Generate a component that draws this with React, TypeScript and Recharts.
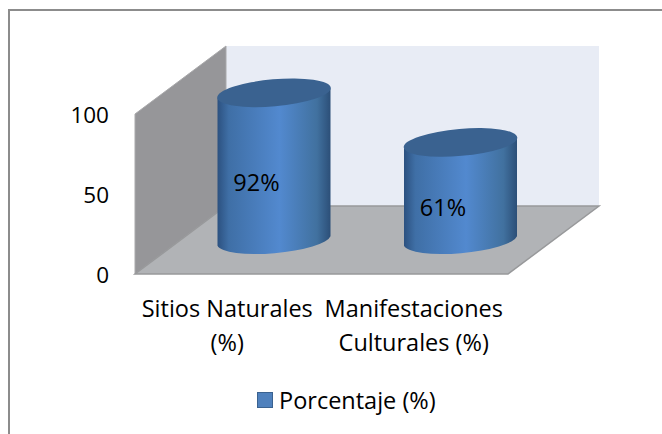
import React from "react";
import { BarChart, Bar, XAxis, YAxis, Legend, LabelList, Customized } from "recharts";

const categories = ["Sitios Naturales (%)", "Manifestaciones Culturales (%)"];
const categoryLines = [
  ["Sitios Naturales", "(%)"],
  ["Manifestaciones", "Culturales (%)"],
];
const percentages = [92, 61];
const yTicks = [0, 50, 100];
const seriesName = "Porcentaje (%)";
const rows = categories.map((name, i) => ({ name, value: percentages[i] }));

const W = 662;
const H = 434;
const FONT = "'Open Sans', Lato, sans-serif";
const TEXT_SIZE = 23.5;
const LEFT = 135;
const TOP = 114;
const RIGHT = 154;
const BOTTOM = 160;
const DEPTH_X = 91;
const DEPTH_Y = 68;

function Room() {
  const l = LEFT;
  const r = W - RIGHT;
  const t = TOP;
  const b = H - BOTTOM;
  return (
    <g>
      <path d={`M9 434V10H${W}`} fill="none" stroke="#8c8c8c" strokeWidth={2} />
      <polygon
        points={`${l + DEPTH_X},${t - DEPTH_Y} ${r + DEPTH_X},${t - DEPTH_Y} ${r + DEPTH_X},${b - DEPTH_Y} ${l + DEPTH_X},${b - DEPTH_Y}`}
        fill="#e8ecf5"
      />
      <polygon
        points={`${l},${t} ${l + DEPTH_X},${t - DEPTH_Y} ${l + DEPTH_X},${b - DEPTH_Y} ${l},${b}`}
        fill="#969699"
        stroke="#a9a9ab"
        strokeWidth={1}
      />
      <polygon
        points={`${l},${b} ${l + DEPTH_X},${b - DEPTH_Y} ${r + DEPTH_X},${b - DEPTH_Y} ${r},${b}`}
        fill="#b1b3b6"
        stroke="#98999b"
        strokeWidth={1.5}
      />
    </g>
  );
}

function Cylinder(props: any) {
  const { x, y, width, height } = props;
  const cx = x + width / 2 + DEPTH_X / 2;
  const yTop = y - DEPTH_Y / 2;
  const yBottom = y + height - DEPTH_Y / 2 + 1;
  const rx = 57;
  const ry = 13.5;
  const rot = -5;
  const dx = 56.5;
  const dy = 4.8;
  const body = `M${cx - dx} ${yTop + dy} L${cx - dx} ${yBottom + dy} A${rx} ${ry} ${rot} 0 0 ${cx + dx} ${yBottom - dy} L${cx + dx} ${yTop - dy} A${rx} ${ry} ${rot} 0 1 ${cx - dx} ${yTop + dy} Z`;
  return (
    <g>
      <path d={body} fill="url(#cylBody)" />
      <ellipse
        cx={cx}
        cy={yTop}
        rx={rx}
        ry={ry}
        transform={`rotate(${rot} ${cx} ${yTop})`}
        fill="#3a6290"
      />
    </g>
  );
}

function BarLabel(props: any) {
  const { x, y, width, height, value } = props;
  return (
    <text
      x={x + width / 2 + 28}
      y={y + height / 2 - 18}
      textAnchor="middle"
      dominantBaseline="central"
      fontFamily={FONT}
      fontSize={TEXT_SIZE}
      fill="#000"
    >
      {value}%
    </text>
  );
}

function XTick(props: any) {
  const { x, y, payload } = props;
  const lines = categoryLines[categories.indexOf(payload.value)] ?? [payload.value];
  return (
    <text x={x - 1} y={y + 37} textAnchor="middle" fontFamily={FONT} fontSize={TEXT_SIZE} fill="#000">
      {lines.map((line: string, i: number) => (
        <tspan key={line} x={x - 1} dy={i === 0 ? 0 : 34}>
          {line}
        </tspan>
      ))}
    </text>
  );
}

function LegendBox(props: any) {
  const item = props.payload?.[0];
  return (
    <div style={{ display: "flex", alignItems: "center", fontFamily: FONT, fontSize: TEXT_SIZE, color: "#000", lineHeight: "26px", whiteSpace: "nowrap" }}>
      <span
        style={{
          width: 14,
          height: 14,
          background: "#4f81bd",
          border: "1px solid #3a6290",
          marginRight: 6,
          display: "inline-block",
        }}
      />
      {item?.value}
    </div>
  );
}

export default function App() {
  return (
    <div style={{ position: "absolute", left: 0, top: 0, width: W, height: H }}>
      <BarChart width={W} height={H} data={rows} margin={{ left: 0, top: TOP, right: RIGHT, bottom: 0 }}>
        <defs>
          <linearGradient id="cylBody" x1="0" y1="0" x2="1" y2="0">
            <stop offset="0" stopColor="#2c5180" />
            <stop offset="0.1" stopColor="#3f6fa6" />
            <stop offset="0.55" stopColor="#5289cf" />
            <stop offset="0.88" stopColor="#41719f" />
            <stop offset="1" stopColor="#2c4f78" />
          </linearGradient>
        </defs>
        <Customized component={Room} />
        <XAxis dataKey="name" axisLine={false} tickLine={false} tick={<XTick />} height={BOTTOM} interval={0} tickMargin={0} />
        <YAxis
          domain={[0, 100]}
          ticks={yTicks}
          axisLine={false}
          tickLine={false}
          width={LEFT}
          tickMargin={20}
          tick={{ fill: "#000", fontSize: 22.5, fontFamily: FONT, dy: 1 }}
        />
        <Legend
          layout="horizontal"
          verticalAlign="middle"
          align="center"
          content={<LegendBox />}
          wrapperStyle={{ position: "absolute", left: 257, top: 387, width: 200, height: 26 }}
        />
        <Bar dataKey="value" name={seriesName} fill="#4f81bd" barSize={113} shape={<Cylinder />} isAnimationActive={false}>
          <LabelList dataKey="value" content={<BarLabel />} />
        </Bar>
      </BarChart>
    </div>
  );
}
